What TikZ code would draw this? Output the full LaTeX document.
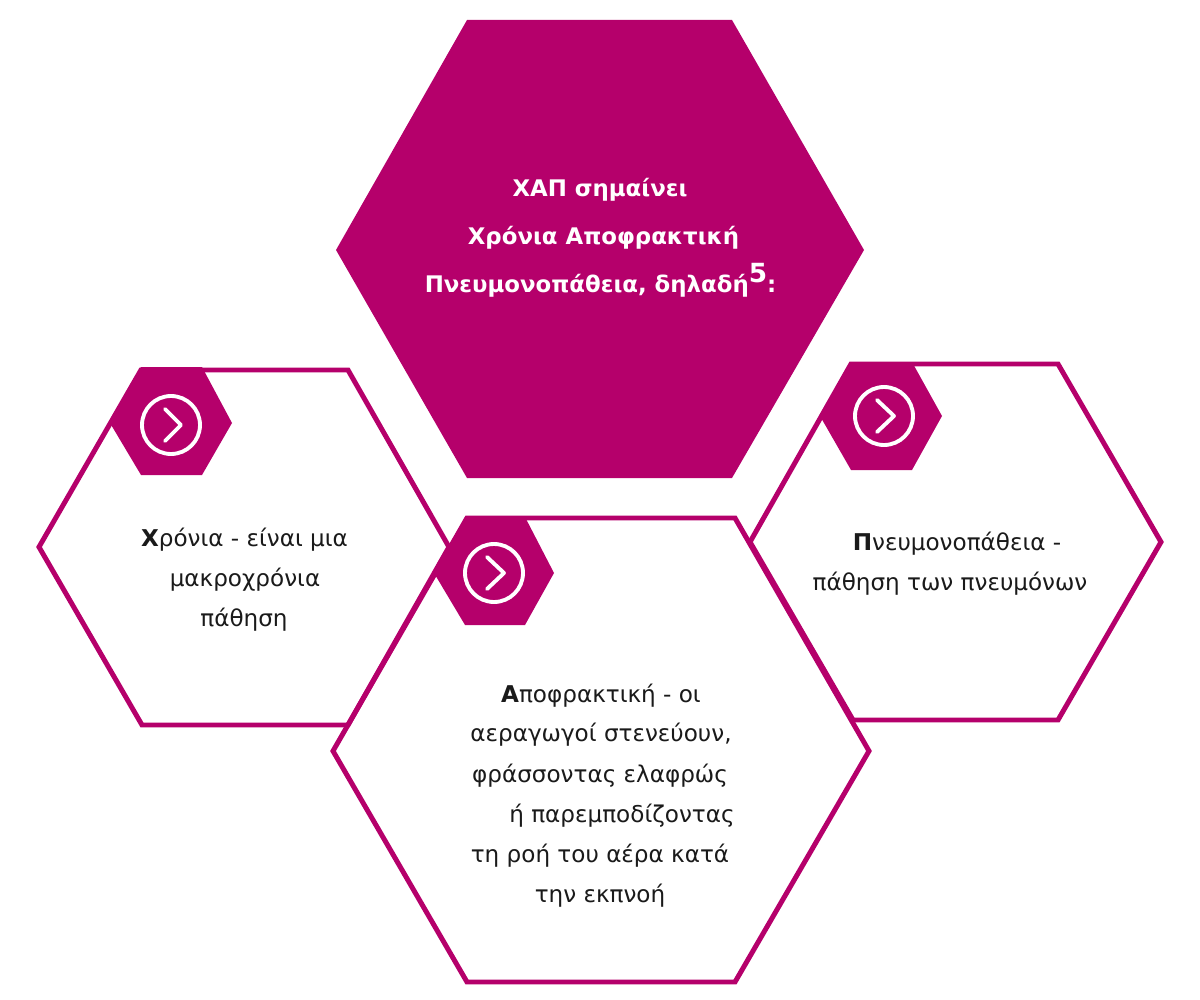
\documentclass[tikz,border=0pt]{standalone}
\usepackage{fontspec}
\setmainfont{DejaVu Sans}
\definecolor{copdpink}{HTML}{B5006B}
\definecolor{copdtext}{HTML}{1A1A1A}

\begin{document}
\begin{tikzpicture}[x=0.02cm,y=0.02cm]
\tikzstyle{every node}+=[inner sep=0pt]
\tikzstyle{hexline}=[draw=copdpink,line width=2.83pt,line join=miter]
\tikzstyle{hexfill}=[fill=copdpink]
\tikzstyle{ringline}=[draw=white,line width=2.2pt]
\tikzstyle{chevron}=[draw=white,line width=2.2pt,line cap=round,line join=round]
\tikzstyle{headtext}=[anchor=base,text=white,font=\fontsize{13}{15}\selectfont\bfseries]
\tikzstyle{bodytext}=[anchor=base,text=copdtext,font=\fontsize{13.15}{15}\selectfont]
\useasboundingbox (0,0) rectangle (1200,-1000);
% main hexagon
\fill [hexfill] (467,-20) -- (732,-20) -- (864,-250) -- (732,-478) -- (467,-478) -- (336,-250) -- cycle;
\node [headtext] (title1) at (600,-197) {ΧΑΠ σημαίνει};
\node [headtext] (title2) at (603.5,-245) {Χρόνια Αποφρακτική};
\node [headtext] (title3) at (600.5,-293) {Πνευμονοπάθεια, δηλαδή\raisebox{5.7pt}{\fontsize{15}{15}\selectfont 5}:};
% left hexagon
\draw [hexline] (141,-370) -- (348,-370) -- (449,-547) -- (348,-725) -- (142,-725) -- (39,-547) -- cycle;
\fill [hexfill] (141,-367) -- (202,-367) -- (232,-423) -- (202,-475) -- (141,-475) -- (110,-423) -- cycle;
\draw [ringline] (171,-425) circle (29);
\draw [chevron] (165,-409) -- (181,-425) -- (165,-441);
\node [bodytext] (chronia1) at (244.5,-546) {\textbf{Χ}ρόνια - είναι μια};
\node [bodytext] (chronia2) at (245,-586) {μακροχρόνια};
\node [bodytext] (chronia3) at (244,-626) {πάθηση};
% right hexagon
\draw [hexline] (851,-364) -- (1058,-364) -- (1161,-542) -- (1058,-720) -- (853,-720) -- (750,-542) -- cycle;
\fill [hexfill] (851,-362) -- (912,-362) -- (942,-416) -- (912,-470) -- (851,-470) -- (820,-416) -- cycle;
\draw [ringline] (884,-416) circle (29);
\draw [chevron] (877,-400) -- (894,-416) -- (877,-432);
\node [bodytext] (pneumo1) at (957,-550) {\textbf{Π}νευμονοπάθεια -};
\node [bodytext] (pneumo2) at (950,-590) {πάθηση των πνευμόνων};
% bottom hexagon
\draw [hexline] (467,-518) -- (735,-518) -- (869,-751) -- (735,-982) -- (467,-982) -- (333,-751) -- cycle;
\fill [hexfill] (465,-517) -- (525,-517) -- (554,-573) -- (525,-625) -- (465,-625) -- (434,-573) -- cycle;
\draw [ringline] (494,-573) circle (29);
\draw [chevron] (487,-557) -- (504,-573) -- (487,-589);
\node [bodytext] (apofr1) at (601,-702) {\textbf{Α}ποφρακτική - οι};
\node [bodytext] (apofr2) at (601,-741) {αεραγωγοί στενεύουν,};
\node [bodytext] (apofr3) at (600,-782) {φράσσοντας ελαφρώς};
\node [bodytext] (apofr4) at (622,-822) {ή παρεμποδίζοντας};
\node [bodytext] (apofr5) at (600,-862) {τη ροή του αέρα κατά};
\node [bodytext] (apofr6) at (600,-902) {την εκπνοή};
\end{tikzpicture}
\end{document}
